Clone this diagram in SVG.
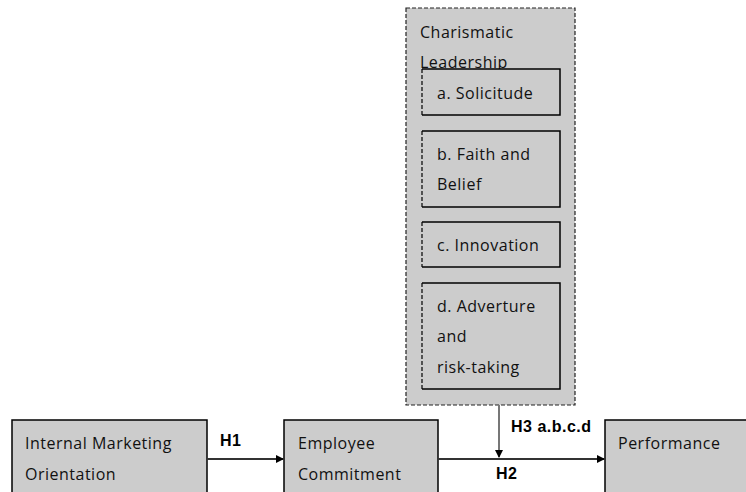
<svg xmlns="http://www.w3.org/2000/svg" width="746" height="492" viewBox="0 0 746 492">
<style>
.box{fill:#cccccc;stroke:#000;stroke-width:1.5}
.dash{fill:#cccccc;stroke:#222;stroke-width:1.2;stroke-dasharray:4 2}
.t{font-family:"Open Sans","Liberation Sans",sans-serif;font-size:16px;letter-spacing:0.5px;fill:#111}
.b{font-family:"Liberation Sans",sans-serif;font-size:16px;letter-spacing:0.5px;font-weight:bold;fill:#000}
.ln{stroke:#333;stroke-width:2;fill:none}
.side{fill:none;stroke:#000;stroke-width:1.5}
.lside{stroke:#000;stroke-width:1.2;stroke-dasharray:4 2}
</style>
<defs>
<marker id="ah" markerWidth="8" markerHeight="8" refX="7" refY="4" orient="auto" markerUnits="userSpaceOnUse">
<path d="M0,0 L8,4 L0,8 z" fill="#000"/>
</marker>
</defs>
<rect width="746" height="492" fill="#fff"/>
<g id="charismatic">
<rect class="dash" x="406" y="8" width="169" height="397"/>
<text class="t" x="420" y="38">Charismatic</text>
<text class="t" x="420" y="68">Leadership</text>
</g>
<g id="solicitude">
<rect x="422" y="69" width="138" height="46" fill="#cccccc"/>
<path class="side" d="M422,69 H560 V115 H422"/>
<path class="lside" d="M422,69 V115"/>
<text class="t" x="437" y="99">a. Solicitude</text>
</g>
<g id="faith">
<rect x="422" y="131" width="138" height="76" fill="#cccccc"/>
<path class="side" d="M422,131 H560 V207 H422"/>
<path class="lside" d="M422,131 V207"/>
<text class="t" x="437" y="160">b. Faith and</text>
<text class="t" x="437" y="190">Belief</text>
</g>
<g id="innovation">
<rect x="422" y="222" width="138" height="45" fill="#cccccc"/>
<path class="side" d="M422,222 H560 V267 H422"/>
<path class="lside" d="M422,222 V267"/>
<text class="t" x="437" y="251">c. Innovation</text>
</g>
<g id="adventure">
<rect x="422" y="283" width="138" height="106" fill="#cccccc"/>
<path class="side" d="M422,283 H560 V389 H422"/>
<path class="lside" d="M422,283 V389"/>
<text class="t" x="437" y="312">d. Adverture</text>
<text class="t" x="437" y="342">and</text>
<text class="t" x="437" y="373">risk-taking</text>
</g>
<g id="imo">
<rect class="box" x="12" y="420" width="195" height="80"/>
<text class="t" x="25" y="449">Internal Marketing</text>
<text class="t" x="25" y="480">Orientation</text>
</g>
<g id="commitment">
<rect class="box" x="284" y="420" width="154" height="80"/>
<text class="t" x="298" y="449">Employee</text>
<text class="t" x="298" y="480">Commitment</text>
</g>
<g id="performance">
<rect class="box" x="605" y="420" width="150" height="80"/>
<text class="t" x="618" y="449">Performance</text>
</g>
<g id="connectors">
<line class="ln" x1="207" y1="459" x2="283" y2="459" marker-end="url(#ah)"/>
<line class="ln" x1="438" y1="459" x2="604" y2="459" marker-end="url(#ah)"/>
<line x1="499" y1="405" x2="499" y2="457" stroke="#777" stroke-width="2" marker-end="url(#ah)"/>
<text class="b" x="220" y="446">H1</text>
<text class="b" x="496" y="479">H2</text>
<text class="b" x="511" y="432">H3 a.b.c.d</text>
</g>
</svg>
